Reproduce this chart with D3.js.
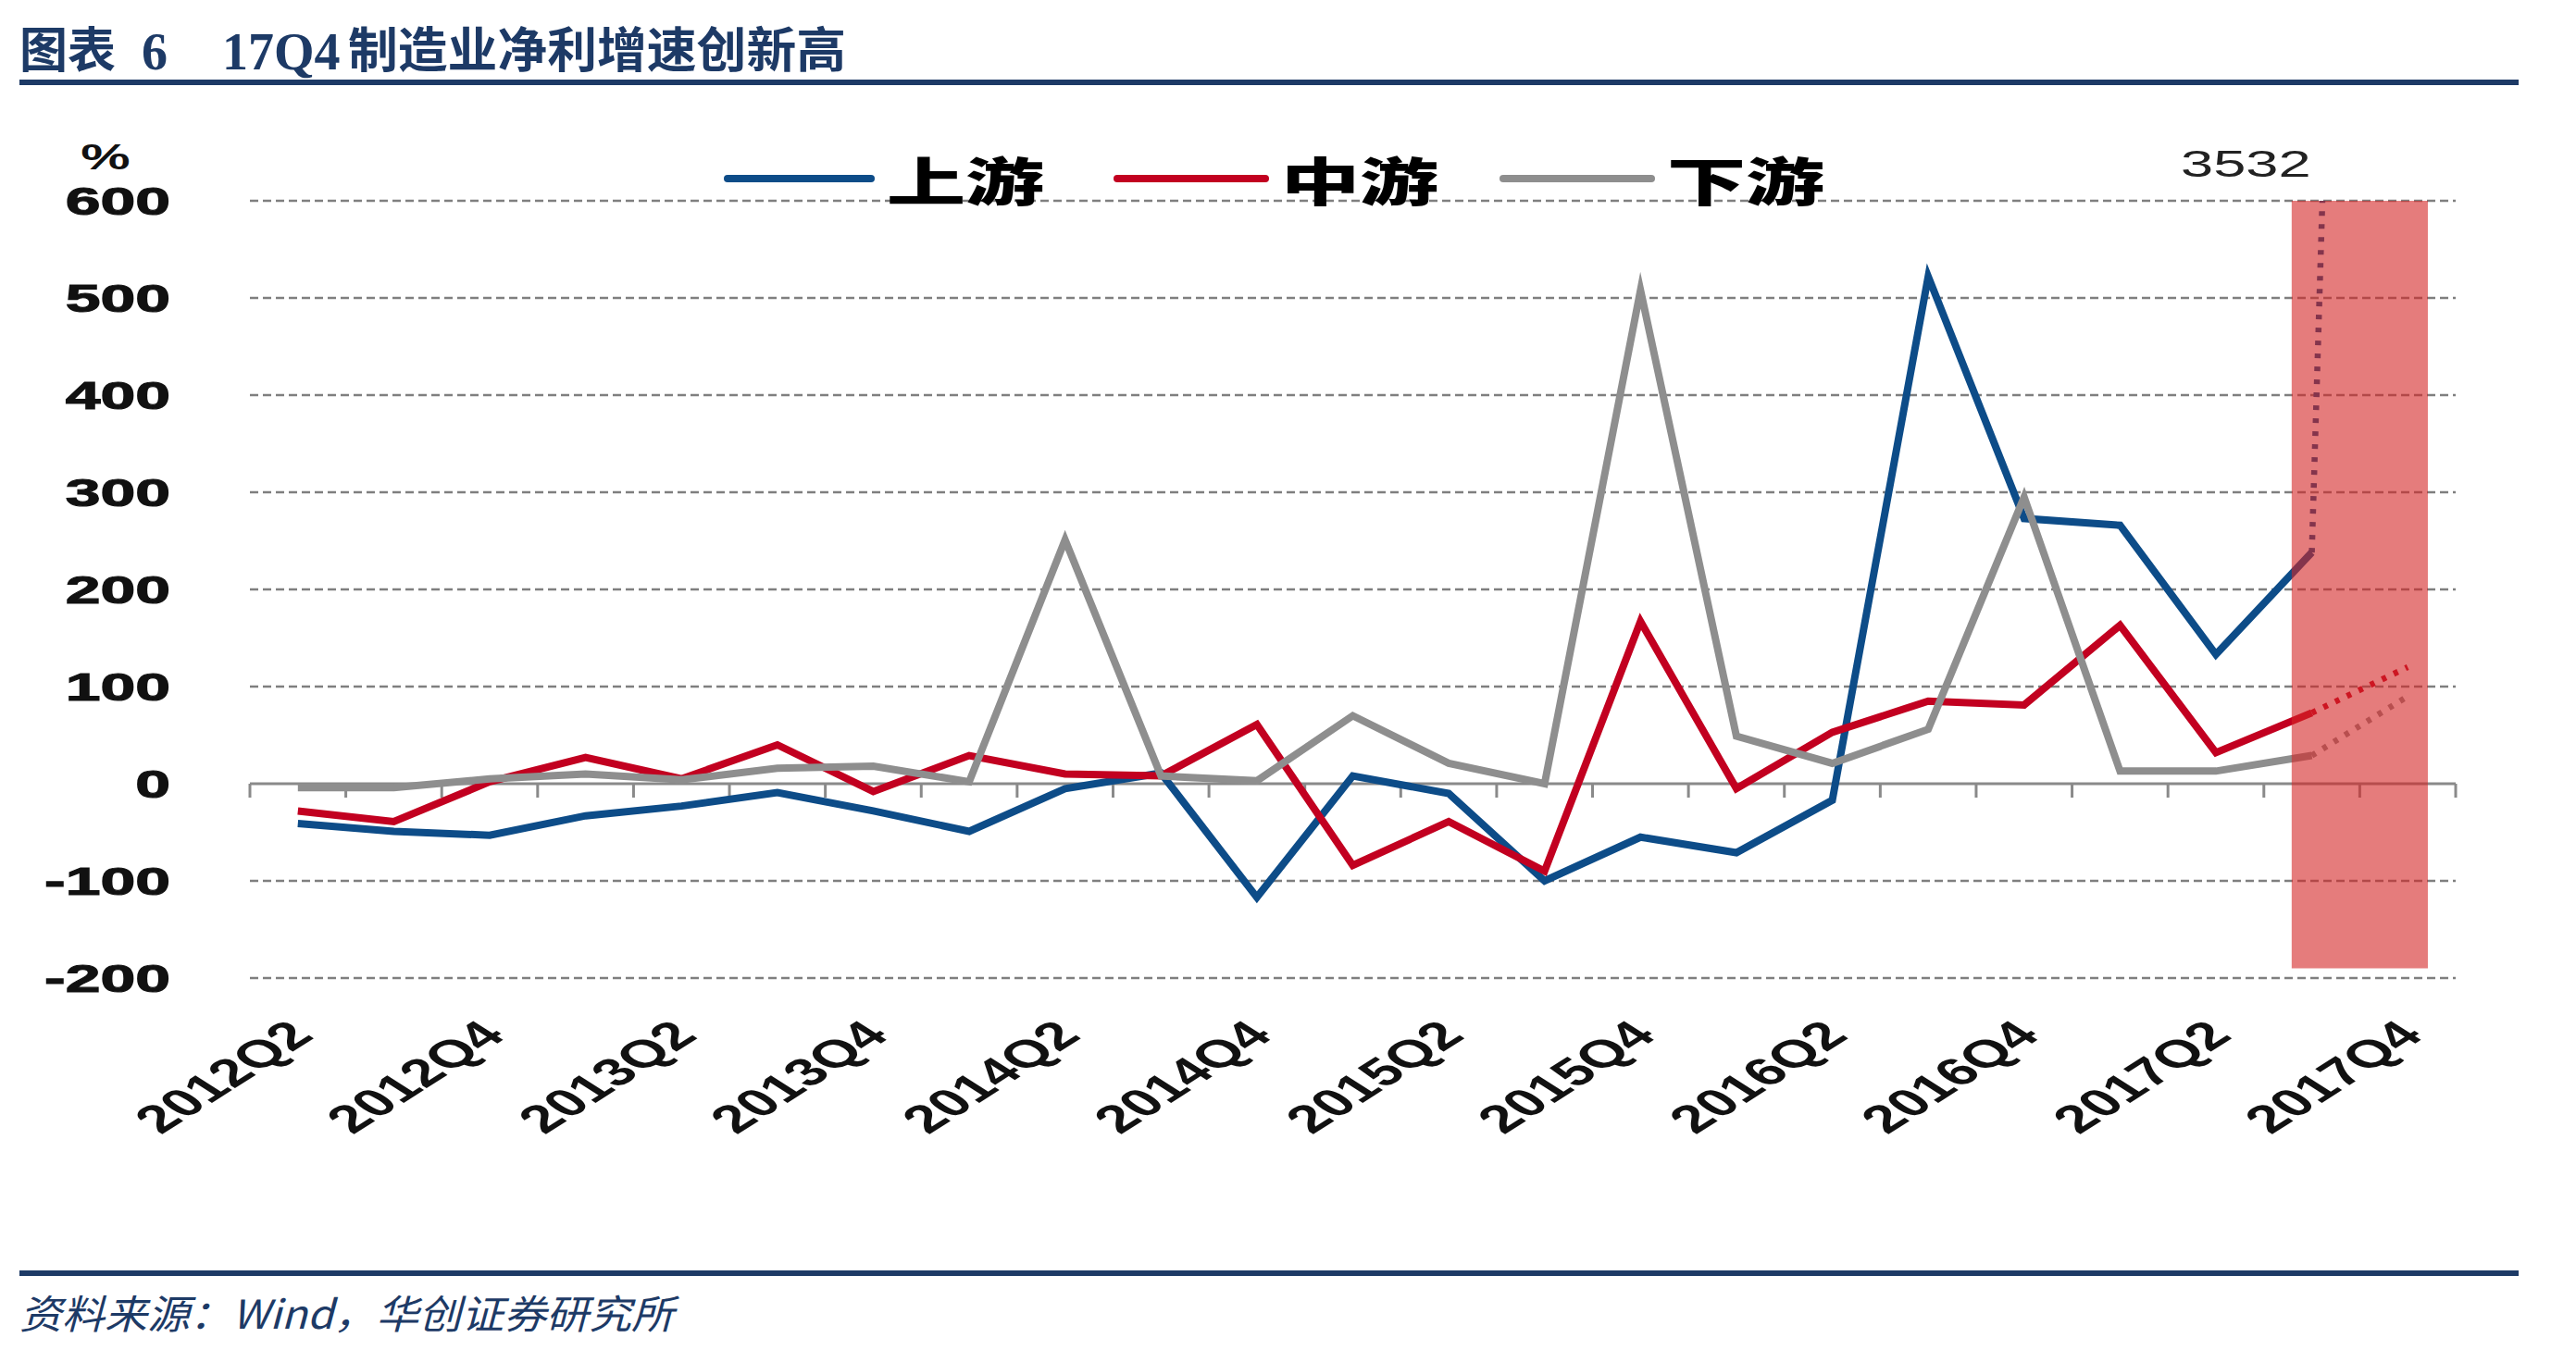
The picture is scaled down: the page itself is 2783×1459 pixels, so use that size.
<!DOCTYPE html>
<html><head><meta charset="utf-8">
<script src="https://cdn.jsdelivr.net/npm/d3@7"></script>
<style>body{margin:0;background:#fff}svg{display:block}</style>
</head><body><svg id="c" width="2783" height="1459"></svg>
<script>
// ---------- data ----------
const categories = ["2012Q2","2012Q3","2012Q4","2013Q1","2013Q2","2013Q3","2013Q4","2014Q1","2014Q2","2014Q3","2014Q4","2015Q1","2015Q2","2015Q3","2015Q4","2016Q1","2016Q2","2016Q3","2016Q4","2017Q1","2017Q2","2017Q3","2017Q4"];
const upstream   = [-41,-49,-53,-33,-23,-9,-28,-49,-5,11,-117,8,-10,-100,-55,-71,-17,522,273,266,133,238,3532];
const midstream  = [-28,-39,2,27,5,40,-8,29,10,8,61,-84,-39,-90,167,-5,53,85,81,163,32,73,120];
const downstream = [-4,-4,5,10,4,16,18,2,251,8,3,70,21,0,508,49,21,56,295,13,13,29,90];
const seriesNames = ["上游","中游","下游"];
const yTicks = [-200,-100,0,100,200,300,400,500,600];
const xTickLabels = ["2012Q2","2012Q4","2013Q2","2013Q4","2014Q2","2014Q4","2015Q2","2015Q4","2016Q2","2016Q4","2017Q2","2017Q4"];
const forecastFrom = "2017Q3";   // last solid point; dotted afterwards
const highlight = {from:"2017Q3", to:"2017Q4", low:-190, high:600};
const titleText = ["图表", "6", "17Q4", "制造业净利增速创新高"];
const sourceText = "资料来源：Wind，华创证券研究所";

// ---------- styles ----------
const colors = ["#0d4c88","#c20020","#8e8e8e"];
const navy = "#1d3a66";
const SX = 1.58; // horizontal stretch of chart texts

const svg = d3.select("#c");
const y = d3.scaleLinear().domain([-200,600]).range([1057,217]);
const x = d3.scaleBand().domain(categories).range([270,2653]).padding(0);
const cx = c => x(c) + x.bandwidth()/2;

// title
const tg = svg.append("g").attr("fill", navy);
tg.append("text").attr("x",21).attr("y",73).attr("font-family","Noto Sans CJK SC").attr("font-weight",700).attr("font-size",52).text(titleText[0]);
tg.append("text").attr("x",153).attr("y",75).attr("font-family","Liberation Serif").attr("font-weight",700).attr("font-size",56).text(titleText[1]);
tg.append("text").attr("x",240).attr("y",75).attr("font-family","Liberation Serif").attr("font-weight",700).attr("font-size",56).text(titleText[2]);
tg.append("text").attr("x",376).attr("y",73).attr("font-family","Noto Sans CJK SC").attr("font-weight",700).attr("font-size",52)
  .attr("textLength",538).attr("lengthAdjust","spacingAndGlyphs").text(titleText[3]);
svg.append("rect").attr("x",21).attr("y",86).attr("width",2700).attr("height",6).attr("fill",navy);

// footer
svg.append("rect").attr("x",21).attr("y",1373).attr("width",2700).attr("height",6).attr("fill",navy);
svg.append("text").attr("x",21).attr("y",1436).attr("fill",navy).attr("font-family","Noto Sans CJK SC").attr("font-style","italic")
  .attr("font-size",43).attr("textLength",707).attr("lengthAdjust","spacingAndGlyphs").text(sourceText);

// clip
svg.append("defs").append("clipPath").attr("id","plot").append("rect")
  .attr("x",270).attr("y",y(600)).attr("width",2653-270).attr("height",y(-200)-y(600));

// gridlines
svg.append("g").selectAll("line").data(yTicks.filter(v=>v!==0)).join("line")
  .attr("x1",270).attr("x2",2653).attr("y1",d=>y(d)).attr("y2",d=>y(d))
  .attr("stroke","#7f7f7f").attr("stroke-width",2.4).attr("stroke-dasharray","9,5");

// x axis line + ticks at band boundaries
svg.append("line").attr("x1",270).attr("x2",2653).attr("y1",y(0)).attr("y2",y(0)).attr("stroke","#8a8a8a").attr("stroke-width",3);
svg.append("g").selectAll("line").data(categories.map(c=>x(c)).concat([x.range()[1]])).join("line")
  .attr("x1",d=>d).attr("x2",d=>d).attr("y1",y(0)).attr("y2",y(0)+15).attr("stroke","#8a8a8a").attr("stroke-width",3);

// y axis labels
const yAxis = svg.append("g").attr("transform","translate(184,0)")
  .call(d3.axisLeft(y).tickValues(yTicks).tickSize(0).tickPadding(0).tickFormat(d => String(d)));
yAxis.select(".domain").remove();
yAxis.selectAll("text").attr("x",0).attr("dy",null).attr("dominant-baseline","central")
  .attr("transform",`scale(${SX},1)`).attr("font-family","Liberation Sans").attr("font-weight",700)
  .attr("font-size",43).attr("fill","#111").attr("stroke","#111").attr("stroke-width",1.1);
svg.append("text").attr("transform",`translate(114,170) scale(${SX},1)`).attr("text-anchor","middle")
  .attr("dominant-baseline","central").attr("font-family","Liberation Sans").attr("font-weight",700).attr("font-size",38).attr("fill","#111").text("%");

// x labels
svg.append("g").selectAll("text").data(xTickLabels).join("text")
  .attr("transform",d=>`translate(${cx(d)+19},1121) scale(${SX},1) rotate(-45)`)
  .attr("text-anchor","end").attr("font-family","Liberation Sans").attr("font-weight",700)
  .attr("font-size",42).attr("fill","#111").text(d=>d);

// series lines
const all = [upstream, midstream, downstream];
const k = categories.indexOf(forecastFrom);
const line = d3.line().x(d=>cx(d.c)).y(d=>y(d.v));
const plot = svg.append("g").attr("clip-path","url(#plot)");
all.forEach((vals,si)=>{
  const pts = vals.map((v,i)=>({c:categories[i], v}));
  plot.append("path").attr("d",line(pts.slice(0,k+1))).attr("fill","none")
    .attr("stroke",colors[si]).attr("stroke-width",8).attr("stroke-linejoin","miter").attr("stroke-miterlimit",6);
  plot.append("path").attr("d",line(pts.slice(k))).attr("fill","none")
    .attr("stroke",colors[si]).attr("stroke-width",6.5).attr("stroke-dasharray","5,9");
});

// highlight rect
const hbw = x.bandwidth()*0.21;
svg.append("rect").attr("x",cx(highlight.from)-hbw).attr("y",y(highlight.high))
  .attr("width",cx(highlight.to)-cx(highlight.from)+2*hbw).attr("height",y(highlight.low)-y(highlight.high))
  .attr("fill","#d42424").attr("opacity",0.6);

// off-scale value label
svg.append("text").attr("transform",`translate(${cx(forecastFrom)-1},177) scale(${SX},1)`).attr("text-anchor","end")
  .attr("dominant-baseline","central").attr("font-family","Liberation Sans").attr("font-size",40).attr("fill","#222")
  .text(String(upstream[upstream.length-1]));

// legend
const legX = [[786,941,958],[1207,1367,1384],[1624,1784,1801]];
seriesNames.forEach((n,i)=>{
  svg.append("line").attr("x1",legX[i][0]).attr("x2",legX[i][1]).attr("y1",193).attr("y2",193)
    .attr("stroke",colors[i]).attr("stroke-width",8).attr("stroke-linecap","round");
  svg.append("text").attr("transform",`translate(${legX[i][2]},193) scale(1.52,1)`).attr("dominant-baseline","central")
    .attr("font-family","Noto Sans CJK SC").attr("font-weight",900).attr("font-size",56).attr("fill","#000").text(n);
});
</script></body></html>
